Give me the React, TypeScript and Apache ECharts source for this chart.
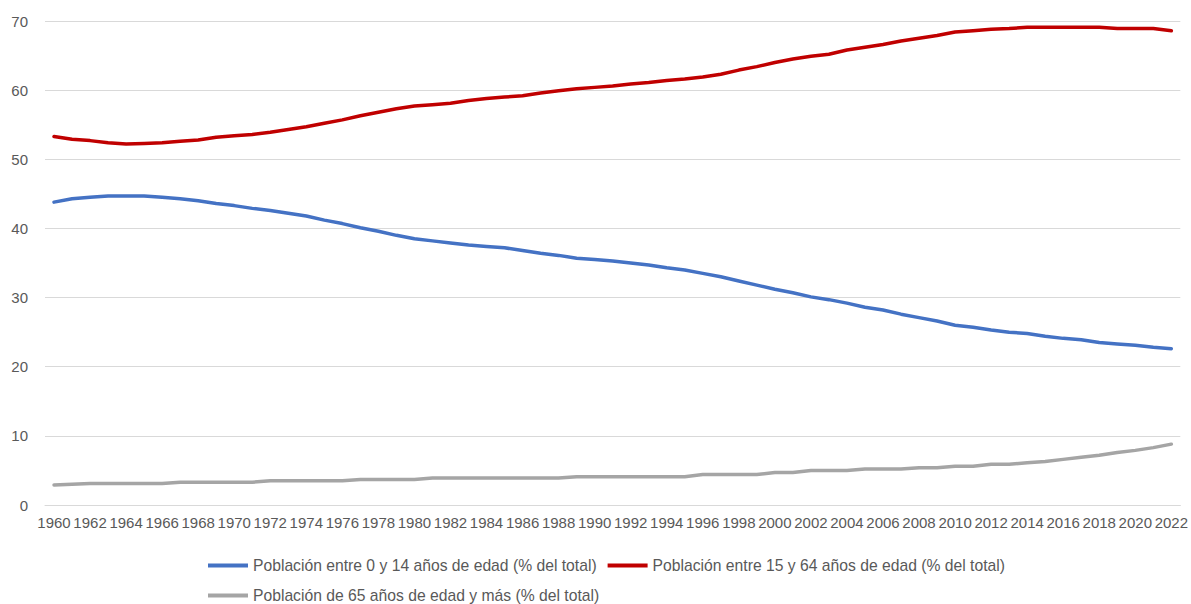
import React, { useEffect, useRef } from "react";
import * as echarts from "echarts";

const years: string[] = [];
for (let y = 1960; y <= 2022; y++) years.push(String(y));

const seriesNames = [
  "Población entre 0 y 14 años de edad (% del total)",
  "Población entre 15 y 64 años de edad (% del total)",
  "Población de 65 años de edad y más (% del total)",
];

const age0to14 = [
  43.8, 44.3, 44.5, 44.7, 44.7, 44.7, 44.5, 44.3, 44.0, 43.6,
  43.3, 42.9, 42.6, 42.2, 41.8, 41.2, 40.7, 40.1, 39.6, 39.0,
  38.5, 38.2, 37.9, 37.6, 37.4, 37.2, 36.8, 36.4, 36.1, 35.7,
  35.5, 35.3, 35.0, 34.7, 34.3, 34.0, 33.5, 33.0, 32.4, 31.8,
  31.2, 30.7, 30.1, 29.7, 29.2, 28.6, 28.2, 27.6, 27.1, 26.6,
  26.0, 25.7, 25.3, 25.0, 24.8, 24.4, 24.1, 23.9, 23.5, 23.3,
  23.1, 22.8, 22.6,
];

const age15to64 = [
  53.3, 52.9, 52.7, 52.4, 52.2, 52.3, 52.4, 52.6, 52.8, 53.2,
  53.4, 53.6, 53.9, 54.3, 54.7, 55.2, 55.7, 56.3, 56.8, 57.3,
  57.7, 57.9, 58.1, 58.5, 58.8, 59.0, 59.2, 59.6, 59.9, 60.2,
  60.4, 60.6, 60.9, 61.1, 61.4, 61.6, 61.9, 62.3, 62.9, 63.4,
  64.0, 64.5, 64.9, 65.2, 65.8, 66.2, 66.6, 67.1, 67.5, 67.9,
  68.4, 68.6, 68.8, 68.9, 69.1, 69.1, 69.1, 69.1, 69.1, 68.9,
  68.9, 68.9, 68.6,
];

const age65plus = [
  2.9, 3.0, 3.1, 3.1, 3.1, 3.1, 3.1, 3.3, 3.3, 3.3,
  3.3, 3.3, 3.5, 3.5, 3.5, 3.5, 3.5, 3.7, 3.7, 3.7,
  3.7, 3.9, 3.9, 3.9, 3.9, 3.9, 3.9, 3.9, 3.9, 4.1,
  4.1, 4.1, 4.1, 4.1, 4.1, 4.1, 4.4, 4.4, 4.4, 4.4,
  4.7, 4.7, 5.0, 5.0, 5.0, 5.2, 5.2, 5.2, 5.4, 5.4,
  5.6, 5.6, 5.9, 5.9, 6.1, 6.3, 6.6, 6.9, 7.2, 7.6,
  7.9, 8.3, 8.8,
];

const colors = ["#4472C4", "#C00000", "#A5A5A5"];
const FONT = "'Liberation Sans', Arial, sans-serif";

export default function App() {
  const ref = useRef<HTMLDivElement>(null);
  useEffect(() => {
    if (!ref.current) return;
    const chart = echarts.init(ref.current, null, { renderer: "svg" });
    const data = [age0to14, age15to64, age65plus];
    chart.setOption({
      animation: false,
      backgroundColor: "#ffffff",
      textStyle: { fontFamily: FONT },
      grid: { left: 45, right: 9, top: 21, bottom: 99, containLabel: false },
      legend: {
        left: 203,
        top: 551,
        width: 820,
        icon: "rect",
        itemWidth: 40,
        itemHeight: 4,
        itemGap: 11,
        textStyle: { fontFamily: FONT, fontSize: 15.7, color: "#595959", lineHeight: 19 },
        data: seriesNames,
      },
      xAxis: {
        type: "category",
        data: years,
        boundaryGap: true,
        axisTick: { show: false },
        axisLine: { lineStyle: { color: "#D9D9D9", width: 1 } },
        axisLabel: { interval: 1, margin: 10, fontSize: 15, color: "#595959", fontFamily: FONT },
      },
      yAxis: {
        type: "value",
        min: 0,
        max: 70,
        interval: 10,
        axisLine: { show: false },
        axisTick: { show: false },
        splitLine: { lineStyle: { color: "#D9D9D9", width: 1 } },
        axisLabel: { margin: 17, fontSize: 15, color: "#595959", fontFamily: FONT },
      },
      series: seriesNames.map((name, i) => ({
        name,
        type: "line",
        data: data[i],
        symbol: "none",
        lineStyle: { color: colors[i], width: 3.5, cap: "round", join: "round" },
        itemStyle: { color: colors[i] },
      })),
    });
    return () => chart.dispose();
  }, []);
  return (
    <div
      ref={ref}
      style={{ position: "fixed", left: 0, top: 0, width: 1191, height: 604, background: "#fff" }}
    />
  );
}
